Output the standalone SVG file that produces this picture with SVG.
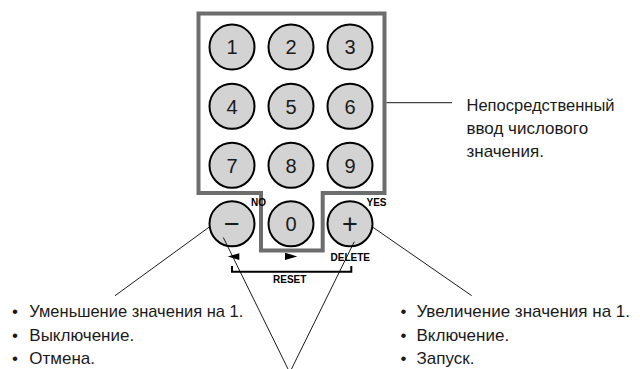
<svg xmlns="http://www.w3.org/2000/svg" width="640" height="369" viewBox="0 0 640 369">
<style>
.key circle{fill:#d3d3d3;stroke:#000;stroke-width:2}
.key text{font-family:"Liberation Sans",Arial,sans-serif;font-size:20px;fill:#1a1a1a;text-anchor:middle}
.key text.sym{font-size:27px}
.lbl{font-family:"Liberation Sans",Arial,sans-serif;font-size:10px;font-weight:bold;fill:#000}
.txt{font-family:"Liberation Sans",Arial,sans-serif;font-size:17px;fill:#1a1a1a}
.conn line{stroke:#000;stroke-width:0.9}
</style>
<rect width="640" height="369" fill="#fff"/>
<g id="frame">
<path d="M198.5,13.5 H384.5 V193 H322.7 V250.5 H261 V193 H198.5 Z" fill="none" stroke="#6d6d6d" stroke-width="4"/>
</g>
<g id="key1" class="key"><circle cx="232" cy="47" r="22.5"/><text x="232" y="54.2">1</text></g>
<g id="key2" class="key"><circle cx="291" cy="47" r="22.5"/><text x="291" y="54.2">2</text></g>
<g id="key3" class="key"><circle cx="350" cy="47" r="22.5"/><text x="350" y="54.2">3</text></g>
<g id="key4" class="key"><circle cx="232" cy="106.3" r="22.5"/><text x="232" y="113.5">4</text></g>
<g id="key5" class="key"><circle cx="291" cy="106.3" r="22.5"/><text x="291" y="113.5">5</text></g>
<g id="key6" class="key"><circle cx="350" cy="106.3" r="22.5"/><text x="350" y="113.5">6</text></g>
<g id="key7" class="key"><circle cx="232" cy="165.3" r="22.5"/><text x="232" y="172.5">7</text></g>
<g id="key8" class="key"><circle cx="291" cy="165.3" r="22.5"/><text x="291" y="172.5">8</text></g>
<g id="key9" class="key"><circle cx="350" cy="165.3" r="22.5"/><text x="350" y="172.5">9</text></g>
<g id="keyMinus" class="key"><circle cx="232" cy="223.8" r="22.5"/><text class="sym" x="232" y="232.8">−</text></g>
<g id="key0" class="key"><circle cx="291" cy="223.8" r="22.5"/><text x="291" y="231">0</text></g>
<g id="keyPlus" class="key"><circle cx="350" cy="223.8" r="22.5"/><text class="sym" x="350" y="232.6">+</text></g>
<g id="labels">
<text class="lbl" x="251" y="205.5">NO</text>
<text class="lbl" x="366.5" y="205.5">YES</text>
<text class="lbl" x="330.5" y="260.5">DELETE</text>
<text class="lbl" x="273" y="283">RESET</text>
<polygon points="227.7,256.6 239.3,253.2 239.3,260" fill="#000"/>
<polygon points="285,252.8 297.3,256.4 285,260" fill="#000"/>
<path d="M232,266 V271.7 H351.3 V266" fill="none" stroke="#000" stroke-width="2"/>
</g>
<g id="conn" class="conn">
<line x1="386.5" y1="102.7" x2="452" y2="102.7"/>
<line x1="210" y1="226.5" x2="115" y2="295.7"/>
<line x1="372.5" y1="227" x2="471.7" y2="295.7"/>
<line x1="223.3" y1="237.5" x2="289.5" y2="372"/>
<line x1="354.3" y1="241.7" x2="290" y2="372"/>
</g>
<g id="noteDirect" class="txt">
<text x="466.5" y="110.5" textLength="148" lengthAdjust="spacingAndGlyphs">Непосредственный</text>
<text x="466.5" y="133.5">ввод числового</text>
<text x="466.5" y="156.5">значения.</text>
</g>
<g id="noteMinus" class="txt">
<text x="12" y="316.5">•</text><text x="29.3" y="316.5" textLength="214" lengthAdjust="spacingAndGlyphs">Уменьшение значения на 1.</text>
<text x="12" y="340.5">•</text><text x="29.3" y="340.5">Выключение.</text>
<text x="12" y="364">•</text><text x="29.3" y="364">Отмена.</text>
</g>
<g id="notePlus" class="txt">
<text x="400.5" y="316.5">•</text><text x="416.5" y="316.5">Увеличение значения на 1.</text>
<text x="400.5" y="340.5">•</text><text x="416.5" y="340.5">Включение.</text>
<text x="400.5" y="364">•</text><text x="416.5" y="364">Запуск.</text>
</g>
</svg>
